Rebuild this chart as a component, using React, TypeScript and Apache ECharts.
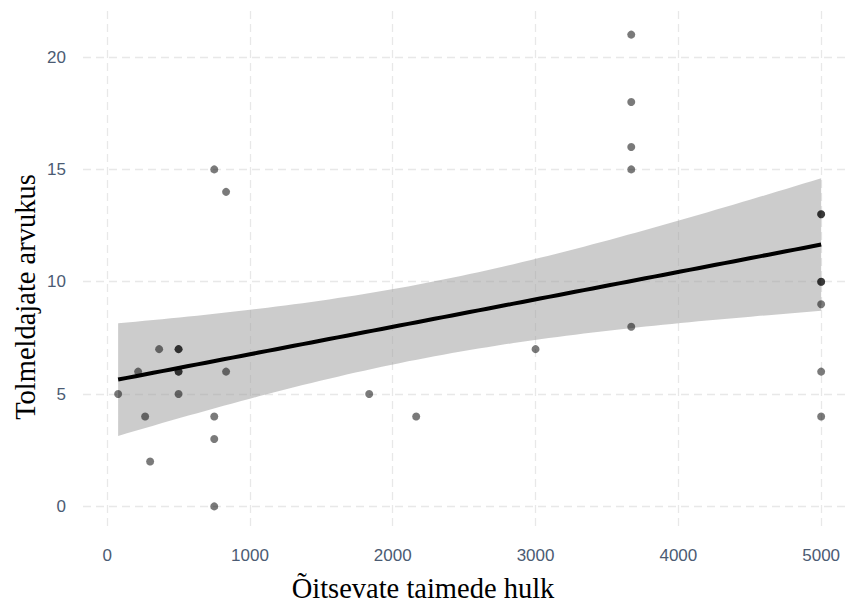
import React, { useEffect, useRef } from "react";
import * as echarts from "echarts";

// Õitsevate taimede hulk (x) and Tolmeldajate arvukus (y)
const flowers = [
  77, 217, 266, 301, 364, 500, 500, 500, 500, 500, 750, 750, 750, 750, 833, 833,
  1835, 2164, 3000, 3670, 3670, 3670, 3670, 3670, 5000, 5000, 5000, 5000, 5000, 5000, 5000,
];
const pollinators = [
  5, 6, 4, 2, 7, 7, 7, 6, 6, 5, 15, 4, 3, 0, 14, 6,
  5, 4, 7, 21, 18, 16, 15, 8, 13, 13, 10, 10, 9, 6, 4,
];
const xTicks = [0, 1000, 2000, 3000, 4000, 5000];
const yTicks = [0, 5, 10, 15, 20];
const xTitle = "Õitsevate taimede hulk";
const yTitle = "Tolmeldajate arvukus";
const T_975 = 2.045; // t quantile, df = n - 2

function linearFit(xs: number[], ys: number[], steps: number) {
  const n = xs.length;
  const mx = xs.reduce((a, b) => a + b, 0) / n;
  const my = ys.reduce((a, b) => a + b, 0) / n;
  let sxx = 0, sxy = 0;
  for (let i = 0; i < n; i++) {
    sxx += (xs[i] - mx) ** 2;
    sxy += (xs[i] - mx) * (ys[i] - my);
  }
  const b = sxy / sxx;
  const a = my - b * mx;
  let sse = 0;
  for (let i = 0; i < n; i++) sse += (ys[i] - a - b * xs[i]) ** 2;
  const s = Math.sqrt(sse / (n - 2));
  const lo = Math.min(...xs), hi = Math.max(...xs);
  const line: number[][] = [], upper: number[][] = [], lower: number[][] = [];
  for (let k = 0; k <= steps; k++) {
    const x = lo + ((hi - lo) * k) / steps;
    const yhat = a + b * x;
    const se = s * Math.sqrt(1 / n + (x - mx) ** 2 / sxx);
    line.push([x, yhat]);
    upper.push([x, yhat + T_975 * se]);
    lower.push([x, yhat - T_975 * se]);
  }
  return { line, upper, lower };
}

export default function App() {
  const ref = useRef<HTMLDivElement>(null);
  useEffect(() => {
    if (!ref.current) return;
    const chart = echarts.init(ref.current, undefined, { renderer: "svg" });
    const fit = linearFit(flowers, pollinators, 80);
    const points = flowers.map((x, i) => [x, pollinators[i]]);
    const gridLine = { show: true, lineStyle: { color: "#e8e8e8", width: 1.3, type: [8, 5] } };
    const labelStyle = {
      color: "#4b5b73",
      fontSize: 17,
      fontFamily: "Liberation Sans, Arial, sans-serif",
      formatter: (v: number) => String(v),
    };
    chart.setOption({
      animation: false,
      backgroundColor: "#ffffff",
      grid: { left: 83, right: 0, top: 11, bottom: 81, containLabel: false, outerBoundsMode: "none" },
      xAxis: {
        type: "value",
        min: -169,
        max: 5188,
        axisLine: { show: false },
        axisTick: { show: false, customValues: xTicks },
        axisLabel: { ...labelStyle, margin: 17, customValues: xTicks },
        splitLine: gridLine,
      },
      yAxis: {
        type: "value",
        min: -1.05,
        max: 22.05,
        axisLine: { show: false },
        axisTick: { show: false, customValues: yTicks },
        axisLabel: { ...labelStyle, margin: 17, customValues: yTicks },
        splitLine: gridLine,
      },
      graphic: [
        {
          type: "text",
          x: 423,
          y: 588,
          style: {
            text: xTitle,
            fontSize: 28.5,
            fontFamily: "Liberation Serif, Times New Roman, serif",
            fill: "#000",
            align: "center",
            verticalAlign: "middle",
          },
        },
        {
          type: "text",
          x: 25,
          y: 297,
          rotation: Math.PI / 2,
          style: {
            text: yTitle,
            fontSize: 28.5,
            fontFamily: "Liberation Serif, Times New Roman, serif",
            fill: "#000",
            align: "center",
            verticalAlign: "middle",
          },
        },
      ],
      series: [
        {
          type: "custom",
          name: "band",
          data: [0],
          silent: true,
          z: 1,
          renderItem: (_params: any, api: any) => {
            const pts = fit.upper
              .map((p) => api.coord(p))
              .concat(fit.lower.slice().reverse().map((p) => api.coord(p)));
            return {
              type: "polygon",
              shape: { points: pts },
              style: { fill: "rgba(153,153,153,0.5)", stroke: "none" },
            };
          },
        },
        {
          type: "line",
          data: fit.line,
          showSymbol: false,
          z: 2,
          lineStyle: { color: "#000", width: 4 },
        },
        {
          type: "scatter",
          data: points,
          symbolSize: 8,
          z: 3,
          itemStyle: { color: "rgba(0,0,0,0.65)" },
        },
      ],
    });
    return () => chart.dispose();
  }, []);
  return (
    <div
      ref={ref}
      style={{ position: "absolute", left: 0, top: 0, width: 848, height: 611 }}
    />
  );
}
